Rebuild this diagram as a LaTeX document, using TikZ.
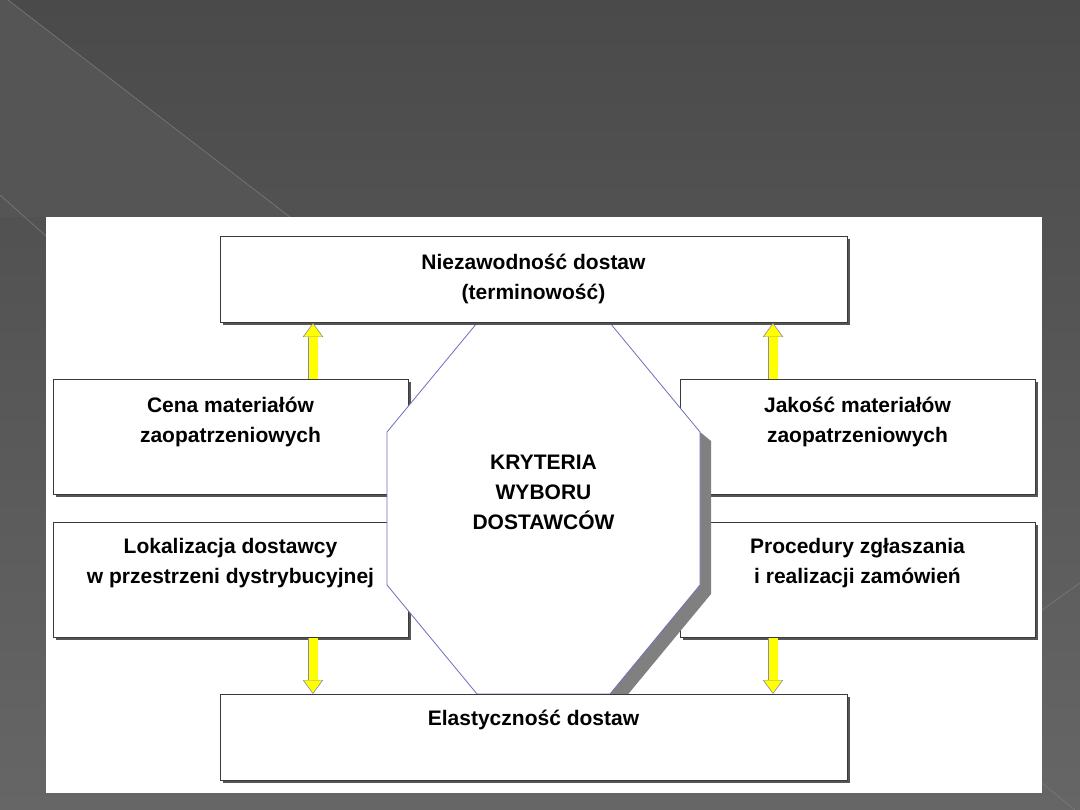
\documentclass[tikz,border=0pt]{standalone}
\usepackage{fontspec}
\setmainfont{Liberation Sans}
\usetikzlibrary{shadows,arrows.meta,calc}
\definecolor{bgtop}{HTML}{4A4A4A}
\definecolor{bgbot}{HTML}{666666}
\definecolor{bgtri}{HTML}{555555}
\definecolor{bgline}{HTML}{7A7A7A}
\definecolor{boxline}{HTML}{3A3A3A}
\definecolor{boxshadow}{HTML}{555555}
\definecolor{octline}{HTML}{6E6EC0}
\definecolor{octshadow}{HTML}{808080}
\definecolor{arrline}{HTML}{8A8AB0}
\definecolor{arrfill}{HTML}{FFFF00}
\tikzset{
  box/.style={draw=boxline, line width=0.9pt, fill=white, anchor=north west,
    general shadow={fill=boxshadow, shadow xshift=3pt, shadow yshift=-3pt}},
  widebox/.style={box, minimum width=627pt, minimum height=86pt},
  sidebox/.style={box, minimum width=355pt, minimum height=115pt},
  lbl/.style={align=center, font=\fontsize{21}{30}\selectfont\bfseries, text=black, inner sep=0pt},
  yarrow/.style={draw=arrfill, line width=9pt, shorten >=1.2pt,
    -{Triangle[width=18pt,length=12.5pt,line width=0pt]},
    preaction={draw=arrline, line width=10.6pt, shorten >=0pt,
      -{Triangle[width=20.5pt,length=14pt,line width=0pt]}}},
  bgedge/.style={draw=bgline, line width=0.6pt}
}
\begin{document}
\begin{tikzpicture}[x=1pt,y=-1pt]
\useasboundingbox (0,0) rectangle (1080,810);
% background
\shade[top color=bgtop, bottom color=bgbot] (0,0) rectangle (1080,810);
\fill[bgtri] (0,0) -- (8,0) -- (290,217) -- (0,217) -- cycle;
\draw[bgedge] (8,0) -- (290,217);
\draw[bgedge] (0,195) -- (46,236);
\draw[bgedge] (1042,610) -- (1080,583);
\draw[bgedge] (1042,783) -- (1075,810);
% white panel
\fill[white] (46,217) rectangle (1042,793);
% side boxes
\node[sidebox] (cena) at (53,379) {};
\node[sidebox] (lok) at (53,522) {};
\node[sidebox] (jak) at (680,379) {};
\node[sidebox] (proc) at (680,522) {};
% octagon with its shadow
\fill[octshadow] (700,432) -- (711,441) -- (711,594) -- (620,704) -- (540,704) -- (540,432) -- cycle;
\draw[octline, line width=0.8pt, fill=white] (477,323) -- (610,323) -- (700,432) -- (700,585) -- (610,694) -- (477,694) -- (387,585) -- (387,432) -- cycle;
% top and bottom boxes
\node[widebox] (top) at (220,236) {};
\node[widebox] (elast) at (220,694) {};
% labels
\node[lbl] (tTop) at (533.5,279) {Niezawodność dostaw\\(terminowość)};
\node[lbl] (tCena) at (230.5,421.5) {Cena materiałów\\zaopatrzeniowych};
\node[lbl] (tLok) at (230.5,563.5) {Lokalizacja dostawcy\\w przestrzeni dystrybucyjnej};
\node[lbl] (tJak) at (857.5,421.5) {Jakość materiałów\\zaopatrzeniowych};
\node[lbl] (tProc) at (857.5,563.5) {Procedury zgłaszania\\i realizacji zamówień};
\node[lbl] (tElast) at (533.5,720) {Elastyczność dostaw};
\node[lbl] (tKryt) at (543.5,492) {KRYTERIA\\WYBORU\\DOSTAWCÓW};
% arrows
\draw[yarrow] ($(cena.north west)+(260,0)$) -- ($(top.south west)+(93,0)$);
\draw[yarrow] ($(jak.north west)+(93,0)$) -- ($(top.south west)+(553,0)$);
\draw[yarrow] ($(lok.south west)+(260,0)$) -- ($(elast.north west)+(93,0)$);
\draw[yarrow] ($(proc.south west)+(93,0)$) -- ($(elast.north west)+(553,0)$);
\end{tikzpicture}
\end{document}
